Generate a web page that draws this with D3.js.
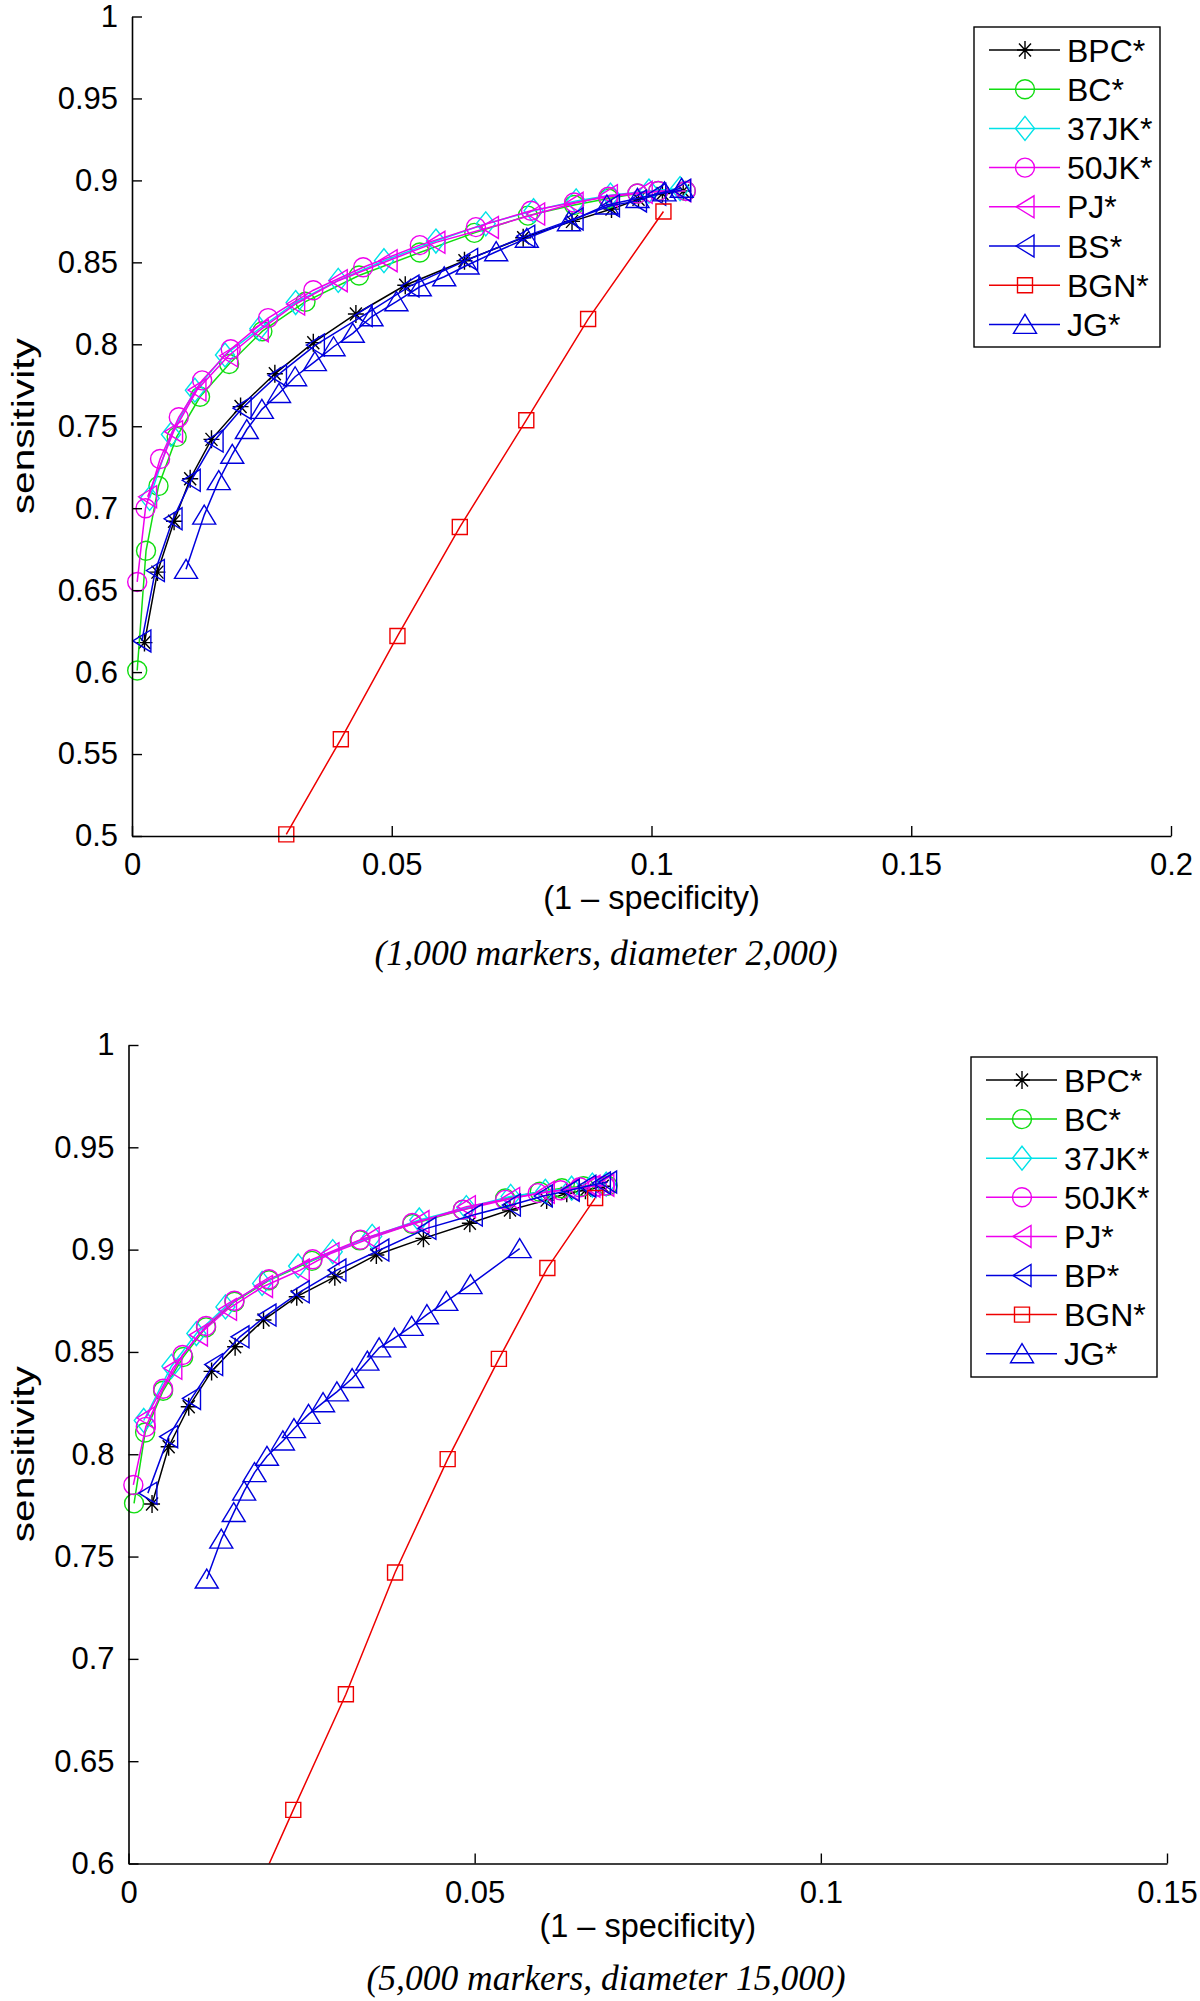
<!DOCTYPE html>
<html><head><meta charset="utf-8">
<script src="https://cdn.jsdelivr.net/npm/d3@7"></script>
<style>body{margin:0;background:#fff}</style>
</head><body>
<svg id="c" width="1200" height="2001" xmlns="http://www.w3.org/2000/svg"></svg>
<script>
// ---------- DATA ----------
const seriesTop = ["BPC*","BC*","37JK*","50JK*","PJ*","BS*","BGN*","JG*"];
const seriesBottom = ["BPC*","BC*","37JK*","50JK*","PJ*","BP*","BGN*","JG*"];

const topXTicks = [0, 0.05, 0.1, 0.15, 0.2];
const topXTickLabels = ["0","0.05","0.1","0.15","0.2"];
const topYTicks = [0.5,0.55,0.6,0.65,0.7,0.75,0.8,0.85,0.9,0.95,1];
const topYTickLabels = ["0.5","0.55","0.6","0.65","0.7","0.75","0.8","0.85","0.9","0.95","1"];
const bottomXTicks = [0, 0.05, 0.1, 0.15];
const bottomXTickLabels = ["0","0.05","0.1","0.15"];
const bottomYTicks = [0.6,0.65,0.7,0.75,0.8,0.85,0.9,0.95,1];
const bottomYTickLabels = ["0.6","0.65","0.7","0.75","0.8","0.85","0.9","0.95","1"];

const xLabel = "(1 \u2013 specificity)";
const yLabel = "sensitivity";
const captionTop = "(1,000 markers, diameter 2,000)";
const captionBottom = "(5,000 markers, diameter 15,000)";

// top chart (1,000 markers)
const top_BPC = [[0.0024,0.618],[0.0049,0.661],[0.0081,0.692],[0.0112,0.718],[0.0153,0.742],[0.0209,0.762],[0.0275,0.782],[0.0349,0.801],[0.0431,0.8185],[0.0526,0.836],[0.064,0.851],[0.0753,0.865],[0.0847,0.875],[0.0923,0.8825],[0.0975,0.8885],[0.1021,0.892],[0.1061,0.8935]];
const top_BC = [[0.001,0.601],[0.0027,0.674],[0.0051,0.7135],[0.0086,0.7435],[0.0131,0.768],[0.0187,0.788],[0.0251,0.808],[0.0334,0.826],[0.0437,0.842],[0.0554,0.856],[0.0659,0.868],[0.0762,0.8785],[0.0851,0.885],[0.0917,0.889],[0.0973,0.892],[0.1013,0.8935],[0.1066,0.8935]];
const top_37JK = [[0.0034,0.706],[0.0075,0.745],[0.0121,0.772],[0.0179,0.7935],[0.0245,0.8095],[0.0315,0.8255],[0.0397,0.839],[0.0485,0.851],[0.0585,0.863],[0.0681,0.8735],[0.0773,0.8815],[0.0855,0.8875],[0.0921,0.891],[0.0995,0.8935],[0.1055,0.895]];
const top_50JK = [[0.001,0.655],[0.0026,0.70],[0.0054,0.730],[0.009,0.7555],[0.0135,0.778],[0.019,0.797],[0.0262,0.816],[0.0349,0.833],[0.0445,0.847],[0.0554,0.8605],[0.0662,0.8715],[0.0768,0.8815],[0.0851,0.8865],[0.0917,0.890],[0.0973,0.892],[0.1013,0.8935],[0.1066,0.8935]];
const top_PJ = [[0.003,0.707],[0.008,0.7467],[0.0125,0.7721],[0.0186,0.793],[0.0245,0.8083],[0.0315,0.8246],[0.0397,0.8388],[0.0493,0.851],[0.0585,0.8622],[0.0688,0.8713],[0.0777,0.8795],[0.0851,0.886],[0.0917,0.8907],[0.0984,0.8927],[0.1058,0.8937]];
const top_BS = [[0.0019,0.619],[0.0045,0.662],[0.0079,0.6935],[0.0114,0.717],[0.0158,0.741],[0.0212,0.761],[0.028,0.781],[0.0353,0.7995],[0.0445,0.8175],[0.0535,0.8355],[0.0648,0.8518],[0.0758,0.866],[0.0851,0.8765],[0.0921,0.8845],[0.0973,0.8875],[0.101,0.8915],[0.1058,0.894]];
const top_BGN = [[0.0297,0.501],[0.0402,0.559],[0.0511,0.622],[0.0631,0.6885],[0.0759,0.7537],[0.0878,0.8154],[0.1023,0.881]];
const top_JG = [[0.0104,0.6627],[0.0139,0.6958],[0.0167,0.7168],[0.0193,0.7329],[0.0221,0.748],[0.025,0.7603],[0.0283,0.770],[0.0314,0.7802],[0.0352,0.7894],[0.0388,0.7985],[0.0425,0.8067],[0.0461,0.8168],[0.0509,0.826],[0.0554,0.8351],[0.0601,0.8412],[0.0646,0.8484],[0.0701,0.8565],[0.076,0.8647],[0.0841,0.8748],[0.0914,0.885],[0.0973,0.889],[0.1025,0.893],[0.1058,0.8952]];

// bottom chart (5,000 markers)
const bot_BPC = [[0.0034,0.7757],[0.0058,0.8037],[0.0087,0.8232],[0.012,0.8405],[0.0154,0.8525],[0.0195,0.8656],[0.0243,0.877],[0.0298,0.8867],[0.0358,0.8974],[0.0426,0.9055],[0.0493,0.9129],[0.0551,0.9194],[0.0604,0.9242],[0.0633,0.9275],[0.066,0.929],[0.0685,0.931]];
const bot_BC = [[0.0008,0.776],[0.0024,0.8106],[0.005,0.831],[0.0079,0.8475],[0.0112,0.862],[0.0153,0.8745],[0.0203,0.885],[0.0265,0.8945],[0.0334,0.9045],[0.041,0.9125],[0.0483,0.9195],[0.0544,0.925],[0.0594,0.9283],[0.0626,0.93],[0.0657,0.931],[0.0692,0.9312]];
const bot_37JK = [[0.0022,0.8165],[0.0062,0.843],[0.0098,0.859],[0.014,0.872],[0.0193,0.8835],[0.0245,0.892],[0.0295,0.899],[0.0352,0.9065],[0.042,0.9145],[0.0488,0.9205],[0.0552,0.926],[0.0602,0.9285],[0.064,0.93],[0.067,0.9315],[0.069,0.932]];
const bot_50JK = [[0.0007,0.785],[0.0025,0.8134],[0.005,0.832],[0.0078,0.8485],[0.0112,0.8627],[0.0153,0.875],[0.0203,0.8855],[0.0266,0.8953],[0.0335,0.9048],[0.041,0.913],[0.0483,0.9195],[0.0544,0.9243],[0.0591,0.9276],[0.0624,0.929],[0.0652,0.9305],[0.0677,0.931],[0.0688,0.9312]];
const bot_PJ = [[0.0025,0.8178],[0.0064,0.842],[0.0101,0.8583],[0.0143,0.8708],[0.0195,0.882],[0.0248,0.890],[0.0291,0.898],[0.0349,0.9055],[0.0421,0.9137],[0.0488,0.921],[0.0552,0.925],[0.0602,0.928],[0.0638,0.9295],[0.0668,0.931],[0.0688,0.9315]];
const bot_BP = [[0.0028,0.781],[0.0058,0.8086],[0.0091,0.8273],[0.0123,0.8438],[0.0161,0.8574],[0.02,0.868],[0.0248,0.8794],[0.0301,0.89],[0.0363,0.8998],[0.0431,0.9104],[0.0498,0.9169],[0.0553,0.9218],[0.0599,0.9262],[0.0638,0.929],[0.0662,0.931],[0.0683,0.9325],[0.0692,0.933]];
const bot_BGN = [[0.0165,0.571],[0.0238,0.6262],[0.0314,0.6827],[0.0385,0.7422],[0.0461,0.7976],[0.0535,0.8466],[0.0605,0.891],[0.0674,0.9252]];
const bot_JG = [[0.0113,0.739],[0.0134,0.7585],[0.0152,0.7715],[0.0167,0.782],[0.0182,0.791],[0.02,0.799],[0.0223,0.8065],[0.0239,0.8125],[0.026,0.8195],[0.0281,0.8252],[0.0301,0.8305],[0.0323,0.837],[0.0345,0.8455],[0.0362,0.852],[0.0384,0.8568],[0.0409,0.8625],[0.0431,0.8682],[0.0459,0.8747],[0.0494,0.8829],[0.0565,0.9005]];

// ---------- STYLE ----------
const seriesColors = ["#000000","#11dd11","#00e2e8","#ee00ee","#ee00ee","#0000dd","#ee0000","#0000dd"];
const seriesMarkers = ["asterisk","circle","diamond","circle","triLeft","triLeft","square","triUp"];

function markerPath(t){
  switch(t){
    case "circle": return "M9.5,0A9.5,9.5 0 1,1 -9.5,0A9.5,9.5 0 1,1 9.5,0Z";
    case "square": return "M-7.5,-7.5H7.5V7.5H-7.5Z";
    case "diamond": return "M0,-12L9.5,0L0,12L-9.5,0Z";
    case "triLeft": return "M-9,0L9,-11L9,11Z";
    case "triUp": return "M0,-10L11.5,9L-11.5,9Z";
    case "asterisk": return "M-8,0H8M0,-9V9M-6,-6.5L6,6.5M-6,6.5L6,-6.5";
  }
}

const svg = d3.select("#c");
const FONT = "'Liberation Sans', Arial, Helvetica, sans-serif";

function drawChart(cfg){
  const x = d3.scaleLinear().domain(cfg.xDomain).range([cfg.left, cfg.right]);
  const y = d3.scaleLinear().domain(cfg.yDomain).range([cfg.bottom, cfg.top]);
  const g = svg.append("g");
  const clipId = "clip" + cfg.id;
  svg.append("clipPath").attr("id", clipId).append("rect")
    .attr("x", cfg.left).attr("y", cfg.top).attr("width", cfg.right-cfg.left).attr("height", cfg.bottom-cfg.top);

  const line = d3.line().x(d=>x(d[0])).y(d=>y(d[1]));
  cfg.data.forEach((ser, i) => {
    const col = seriesColors[i];
    const sg = g.append("g");
    sg.append("path").attr("d", line(ser)).attr("fill","none").attr("stroke",col)
      .attr("stroke-width",1.5).attr("clip-path","url(#"+clipId+")");
    const inside = ser.filter(d => d[1] >= cfg.yDomain[0] && d[1] <= cfg.yDomain[1] && d[0] >= cfg.xDomain[0] && d[0] <= cfg.xDomain[1]);
    sg.selectAll("path.m").data(inside).enter().append("path").attr("class","m")
      .attr("transform", d => "translate(" + x(d[0]) + "," + y(d[1]) + ")")
      .attr("d", markerPath(seriesMarkers[i]))
      .attr("fill","none").attr("stroke",col).attr("stroke-width",1.4);
  });

  // axes
  const ax = g.append("g").attr("transform","translate(0,"+cfg.bottom+")")
    .call(d3.axisBottom(x).tickValues(cfg.xTicks).tickFormat((d,i)=>cfg.xTickLabels[i])
      .tickSizeInner(-10).tickSizeOuter(0).tickPadding(17));
  const ay = g.append("g").attr("transform","translate("+cfg.left+",0)")
    .call(d3.axisLeft(y).tickValues(cfg.yTicks).tickFormat((d,i)=>cfg.yTickLabels[i])
      .tickSizeInner(-10).tickSizeOuter(0).tickPadding(14));
  [ax, ay].forEach(a => {
    a.selectAll("path.domain").attr("stroke","#000").attr("stroke-width",1.6);
    a.selectAll(".tick line").attr("stroke","#000").attr("stroke-width",1.4);
    a.selectAll("text").attr("fill","#000").style("font-family",FONT).style("font-size","31px");
  });

  // x label
  g.append("text").attr("x",(cfg.left+cfg.right)/2).attr("y",cfg.bottom+73)
    .attr("text-anchor","middle").style("font-family",FONT).style("font-size","32.5px").text(xLabel);
  // y label
  g.append("text").attr("transform","translate(34,"+((cfg.top+cfg.bottom)/2)+") rotate(-90)")
    .attr("text-anchor","middle").style("font-family",FONT).style("font-size","32px")
    .attr("textLength",176).attr("lengthAdjust","spacingAndGlyphs").text(yLabel);
  // caption
  g.append("text").attr("x",cfg.captionX).attr("y",cfg.captionY)
    .attr("text-anchor","middle").style("font-family","'Liberation Serif','Times New Roman',serif")
    .style("font-style","italic").style("font-size","35px")
    .attr("textLength",cfg.captionLen).attr("lengthAdjust","spacingAndGlyphs").text(cfg.caption);

  // legend
  const L = cfg.legend;
  const lg = g.append("g");
  lg.append("rect").attr("x",L.x).attr("y",L.y).attr("width",L.w).attr("height",L.h)
    .attr("fill","#fff").attr("stroke","#000").attr("stroke-width",1.4);
  cfg.names.forEach((nm,i) => {
    const ry = L.y0 + i*L.dy;
    const col = seriesColors[i];
    lg.append("line").attr("x1",L.x+15).attr("x2",L.x+86).attr("y1",ry).attr("y2",ry)
      .attr("stroke",col).attr("stroke-width",1.5);
    lg.append("path").attr("transform","translate("+(L.x+51)+","+ry+")")
      .attr("d",markerPath(seriesMarkers[i])).attr("fill","none").attr("stroke",col).attr("stroke-width",1.4);
    lg.append("text").attr("x",L.x+93).attr("y",ry+11.5).style("font-family",FONT)
      .style("font-size","32px").attr("fill","#000").text(nm);
  });
}

drawChart({
  id:"T", xDomain:[0,0.2], yDomain:[0.5,1], left:132, right:1171, top:16.5, bottom:836,
  xTicks:topXTicks, xTickLabels:topXTickLabels, yTicks:topYTicks, yTickLabels:topYTickLabels,
  data:[top_BPC,top_BC,top_37JK,top_50JK,top_PJ,top_BS,top_BGN,top_JG], names:seriesTop,
  caption:captionTop, captionX:606, captionY:965, captionLen:463,
  legend:{x:974,y:27,w:186,h:320,y0:50,dy:39.2}
});
drawChart({
  id:"B", xDomain:[0,0.15], yDomain:[0.6,1], left:128.5, right:1167, top:1045, bottom:1863.5,
  xTicks:bottomXTicks, xTickLabels:bottomXTickLabels, yTicks:bottomYTicks, yTickLabels:bottomYTickLabels,
  data:[bot_BPC,bot_BC,bot_37JK,bot_50JK,bot_PJ,bot_BP,bot_BGN,bot_JG], names:seriesBottom,
  caption:captionBottom, captionX:606, captionY:1990, captionLen:479,
  legend:{x:971,y:1057,w:186,h:320,y0:1080,dy:39.1}
});
</script>
</body></html>
